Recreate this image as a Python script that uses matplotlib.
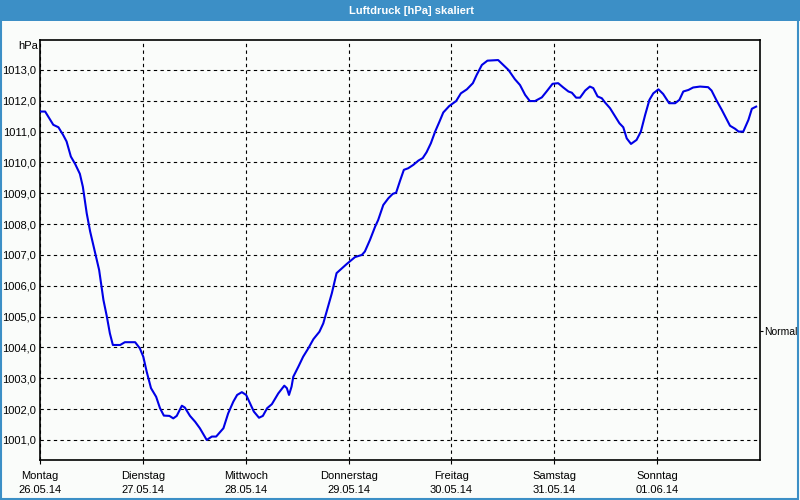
import matplotlib
matplotlib.use("Agg")
import matplotlib.pyplot as plt
from matplotlib.patches import Rectangle

plt.rcParams["font.family"] = ["Liberation Sans", "DejaVu Sans"]

# ---- data ----
hours = [0, 1.2, 1.9, 3.1, 4.3, 5.4, 6.2, 7.2, 8.2, 9.3, 10.0, 10.9, 11.7, 12.8, 13.8,
         14.8, 15.6, 16.3, 17.0, 18.7, 19.8, 22.2, 23.3, 24.1, 24.9, 25.9, 27.1, 28.0,
         28.9, 30.2, 31.1, 31.9, 33.1, 33.8, 35.0, 36.2, 37.3, 38.9, 40.1, 41.1, 42.8,
         43.9, 45.1, 46.0, 47.1, 48.1, 49.0, 49.9, 51.1, 52.0, 53.0, 54.1, 55.6, 57.0,
         57.6, 58.1, 58.7, 59.1, 60.3, 61.4, 62.6, 63.8, 65.2, 66.1, 67.0, 68.1, 69.2,
         70.0, 71.6, 72.7, 73.5, 75.1, 75.8, 77.0, 78.2, 78.9, 80.1, 81.3, 82.3, 83.1,
         84.0, 84.9, 85.9, 87.1, 88.3, 89.3, 90.2, 91.2, 92.2, 93.2, 94.1, 95.5, 97.1,
         98.2, 99.6, 101.0, 101.9, 103.1, 104.4, 106.9, 108.1, 109.3, 110.8, 112.0,
         113.2, 114.3, 115.5, 117.1, 118.2, 119.6, 120.9, 122.1, 123.3, 124.1, 125.1,
         126.0, 127.2, 128.3, 129.1, 130.1, 131.1, 131.8, 133.0, 134.2, 135.2, 136.1,
         136.9, 137.9, 139.2, 140.2, 141.2, 142.2, 143.1, 144.3, 145.4, 146.8, 148.2,
         149.2, 150.1, 151.3, 152.4, 154.0, 155.9, 156.7, 157.9, 159.1, 160.1, 161.0,
         162.2, 163.0, 164.1, 165.3, 166.1, 167.1]
pressure = [1011.65, 1011.65, 1011.49, 1011.22, 1011.14, 1010.89, 1010.68, 1010.19,
            1009.95, 1009.63, 1009.21, 1008.35, 1007.76, 1007.11, 1006.51, 1005.54,
            1005.0, 1004.46, 1004.08, 1004.08, 1004.17, 1004.17, 1003.97, 1003.70,
            1003.21, 1002.68, 1002.40, 1002.03, 1001.79, 1001.78, 1001.70, 1001.78,
            1002.11, 1002.05, 1001.78, 1001.59, 1001.38, 1001.0, 1001.11, 1001.11,
            1001.38, 1001.86, 1002.24, 1002.46, 1002.55, 1002.46, 1002.19, 1001.92,
            1001.72, 1001.78, 1002.03, 1002.16, 1002.51, 1002.76, 1002.68, 1002.46,
            1002.73, 1003.05, 1003.38, 1003.70, 1003.97, 1004.27, 1004.51, 1004.78,
            1005.22, 1005.76, 1006.41, 1006.51, 1006.71, 1006.84, 1006.93, 1007.0,
            1007.11, 1007.49, 1007.92, 1008.13, 1008.62, 1008.84, 1008.98, 1009.02,
            1009.40, 1009.76, 1009.81, 1009.92, 1010.06, 1010.14, 1010.33, 1010.62,
            1011.0, 1011.32, 1011.62, 1011.83, 1011.99, 1012.24, 1012.37, 1012.57,
            1012.84, 1013.16, 1013.30, 1013.32, 1013.16, 1013.0, 1012.70, 1012.51,
            1012.19, 1011.99, 1011.99, 1012.11, 1012.30, 1012.55, 1012.57, 1012.43,
            1012.30, 1012.26, 1012.10, 1012.10, 1012.33, 1012.46, 1012.41, 1012.14,
            1012.08, 1011.95, 1011.76, 1011.49, 1011.27, 1011.14, 1010.78, 1010.60,
            1010.73, 1011.0, 1011.54, 1012.03, 1012.24, 1012.37, 1012.22, 1011.92,
            1011.92, 1012.03, 1012.30, 1012.35, 1012.43, 1012.46, 1012.44, 1012.33,
            1012.0, 1011.70, 1011.43, 1011.19, 1011.09, 1011.0, 1011.0, 1011.38,
            1011.74, 1011.81]
day_names = ["Montag", "Dienstag", "Mittwoch", "Donnerstag", "Freitag", "Samstag", "Sonntag"]
day_dates = ["26.05.14", "27.05.14", "28.05.14", "29.05.14", "30.05.14", "31.05.14", "01.06.14"]
y_ticks = [1001, 1002, 1003, 1004, 1005, 1006, 1007, 1008, 1009, 1010, 1011, 1012, 1013]
normal_value = 1004.53
title = "Luftdruck [hPa] skaliert"
unit = "hPa"

BLUE_BAR = "#3c8fc6"
BG = "#fafcfa"
FS = 8

fig = plt.figure(figsize=(8, 5), dpi=100, facecolor=BG)

# title bar and frame
fig.patches.append(Rectangle((0, 1 - 21 / 500), 1, 21 / 500, transform=fig.transFigure,
                             facecolor=BLUE_BAR, edgecolor="none", zorder=0))
fig.patches.append(Rectangle((0.001, 0.002), 0.997, 0.996, transform=fig.transFigure,
                             facecolor="none", edgecolor=BLUE_BAR, lw=1.5, zorder=1))
fig.text(411 / 800, 1 - 10.5 / 500, title, color="white", fontsize=8,
         fontweight="bold", ha="center", va="center")

ax = fig.add_axes([40 / 800, 40 / 500, 720 / 800, 420 / 500])
ax.set_facecolor(BG)
ax.plot(hours, pressure, color="#0000e6", lw=1.5, zorder=3)

ax.set_xlim(0, 168)
ax.set_ylim(1000.35, 1013.97)
ax.set_xticks([24 * i for i in range(len(day_names))])
ax.set_xticklabels([f"{n}\n{d}" for n, d in zip(day_names, day_dates)],
                   fontsize=FS, linespacing=1.45)
ax.set_yticks(y_ticks)
ax.set_yticklabels([f"{v},0" for v in y_ticks], fontsize=FS)
ax.tick_params(axis="y", length=0, pad=3)
ax.tick_params(axis="x", length=3, pad=5, width=0.8)
ax.grid(True, color="black", lw=0.8, linestyle=(0, (3, 3)))
for s in ax.spines.values():
    s.set_linewidth(1.2)
    s.set_color("black")

ax2 = ax.twinx()
ax2.set_ylim(ax.get_ylim())
ax2.set_yticks([normal_value])
ax2.set_yticklabels(["Normal"], fontsize=7.5)
ax2.tick_params(axis="y", length=2, pad=1)
for s in ax2.spines.values():
    s.set_visible(False)

fig.text(38 / 800, 1 - 46 / 500, unit, fontsize=FS, ha="right", va="center")

fig.savefig("out.png", dpi=100, facecolor=BG)
